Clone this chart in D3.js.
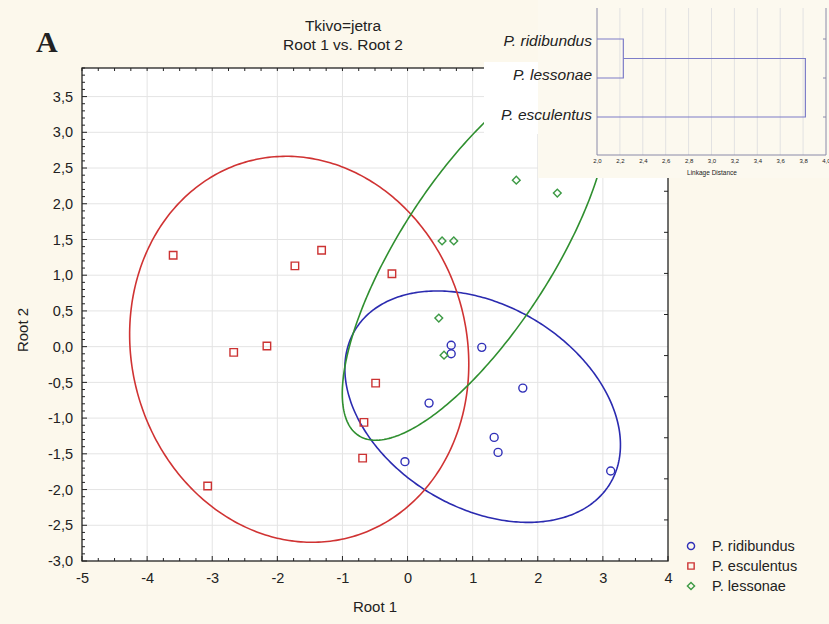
<!DOCTYPE html>
<html>
<head>
<meta charset="utf-8">
<script src="https://cdn.jsdelivr.net/npm/d3@7"></script>
<style>
  html, body { margin: 0; padding: 0; background: #fcf8ec; }
  svg { display: block; }
  text { font-family: "Liberation Sans", Arial, sans-serif; fill: #222; }
</style>
</head>
<body>
<svg id="chart" width="829" height="624"></svg>
<script>
// Canonical scores per group (Root 1, Root 2)
const groups = ["P. ridibundus", "P. esculentus", "P. lessonae"];
const ridibundusRoot1 = [0.67, 0.67, 1.14, 1.77, 0.33, 1.33, 1.39, -0.04, 3.12];
const ridibundusRoot2 = [0.02, -0.10, -0.01, -0.58, -0.79, -1.27, -1.48, -1.61, -1.74];
const esculentusRoot1 = [-3.60, -1.73, -1.32, -0.24, -2.67, -2.16, -0.49, -0.67, -0.69, -3.07];
const esculentusRoot2 = [1.28, 1.13, 1.35, 1.02, -0.08, 0.01, -0.51, -1.06, -1.56, -1.95];
const lessonaeRoot1 = [0.53, 0.71, 0.48, 0.56, 1.67, 2.30];
const lessonaeRoot2 = [1.48, 1.48, 0.40, -0.12, 2.33, 2.15];

const xTicks = [-5, -4, -3, -2, -1, 0, 1, 2, 3, 4];
const yTicks = [-3.0, -2.5, -2.0, -1.5, -1.0, -0.5, 0.0, 0.5, 1.0, 1.5, 2.0, 2.5, 3.0, 3.5];
const ellipseCoverage = 0.80;

// Dendrogram (linkage distance)
const treeLeaves = ["P. ridibundus", "P. lessonae", "P. esculentus"];
const treeJoins = [2.23, 3.82];
const treeTicks = [2.0, 2.2, 2.4, 2.6, 2.8, 3.0, 3.2, 3.4, 3.6, 3.8, 4.0];

const colors = ["#2b2bb0", "#d03333", "#2f8f2f"];
const pointColors = ["#3030b8", "#cc3333", "#3d9a45"];

const series = [
  { name: groups[0], x: ridibundusRoot1, y: ridibundusRoot2 },
  { name: groups[1], x: esculentusRoot1, y: esculentusRoot2 },
  { name: groups[2], x: lessonaeRoot1, y: lessonaeRoot2 }
];

// marker outlines: circle, square, square turned 45 degrees
function marker(i, s) {
  if (i === 0) return d3.symbol().type(d3.symbolCircle).size(s)();
  return d3.symbol().type(d3.symbolSquare).size(s)();
}
const markerRotate = [0, 0, 45];
const markerSize = [50, 56, 30];

const locale = d3.formatLocale({ decimal: ",", thousands: ".", grouping: [3], currency: ["", ""], minus: "-" });
const fmtInt = locale.format("d");
const comma = locale.format(".1f");

const svg = d3.select("#chart");
const plot = { left: 82, right: 668, top: 68, bottom: 561 };
const x = d3.scaleLinear().domain([-5, 4]).range([plot.left, plot.right]);
const y = d3.scaleLinear().domain([-3, 3.9]).range([plot.bottom, plot.top]);

// plot background and grid
svg.append("rect").attr("x", plot.left).attr("y", plot.top)
  .attr("width", plot.right - plot.left).attr("height", plot.bottom - plot.top)
  .attr("fill", "#ffffff");
const grid = svg.append("g").attr("stroke", "#e4e4e4").attr("stroke-width", 1);
grid.selectAll(".gx").data(xTicks.slice(1, -1)).join("line")
  .attr("x1", d => x(d)).attr("x2", d => x(d)).attr("y1", plot.top).attr("y2", plot.bottom);
grid.selectAll(".gy").data(yTicks.slice(1)).join("line")
  .attr("y1", d => y(d)).attr("y2", d => y(d)).attr("x1", plot.left).attr("x2", plot.right);

svg.append("clipPath").attr("id", "plotClip").append("rect")
  .attr("x", plot.left).attr("y", plot.top)
  .attr("width", plot.right - plot.left).attr("height", plot.bottom - plot.top);

// prediction ellipse from group covariance
function fQuantile2(p, d) { return d / 2 * (Math.pow(1 - p, -2 / d) - 1); }
function ellipsePath(s) {
  const n = s.x.length;
  const mx = d3.mean(s.x), my = d3.mean(s.y);
  let a = 0, b = 0, c = 0;
  for (let i = 0; i < n; i++) {
    const ddx = s.x[i] - mx, ddy = s.y[i] - my;
    a += ddx * ddx; b += ddx * ddy; c += ddy * ddy;
  }
  a /= n - 1; b /= n - 1; c /= n - 1;
  const half = (a + c) / 2, r = Math.sqrt(((a - c) / 2) ** 2 + b * b);
  const l1 = half + r, l2 = Math.max(half - r, 0);
  const th = 0.5 * Math.atan2(2 * b, a - c);
  const k = Math.sqrt(2 * (n - 1) * (n + 1) / (n * (n - 2)) * fQuantile2(ellipseCoverage, n - 2));
  const pts = d3.range(0, 361).map(t => {
    const u = t * Math.PI / 180;
    const ex = k * Math.sqrt(l1) * Math.cos(u), ey = k * Math.sqrt(l2) * Math.sin(u);
    return [x(mx + ex * Math.cos(th) - ey * Math.sin(th)), y(my + ex * Math.sin(th) + ey * Math.cos(th))];
  });
  return d3.line()(pts) + "Z";
}

const ell = svg.append("g").attr("clip-path", "url(#plotClip)");
series.forEach((s, i) => {
  ell.append("path").attr("d", ellipsePath(s)).attr("fill", "none")
    .attr("stroke", colors[i]).attr("stroke-width", 1.6);
});

// points
series.forEach((s, i) => {
  svg.append("g").selectAll("path").data(s.x.map((v, j) => [v, s.y[j]])).join("path")
    .attr("transform", d => `translate(${x(d[0])},${y(d[1])}) rotate(${markerRotate[i]})`)
    .attr("d", marker(i, markerSize[i]))
    .attr("fill", "none").attr("stroke", pointColors[i]).attr("stroke-width", 1.4);
});

// frame and axes
const axisG = svg.append("g");
axisG.append("g").attr("transform", `translate(0,${plot.bottom})`)
  .call(d3.axisBottom(x).tickValues(xTicks).tickSize(0).tickPadding(12).tickFormat(fmtInt))
  .call(g => g.select(".domain").remove())
  .selectAll("text").style("font-size", "14.5px").attr("fill", "#222");
axisG.append("g").attr("transform", `translate(${plot.left},0)`)
  .call(d3.axisLeft(y).tickValues(yTicks).tickSize(0).tickPadding(9).tickFormat(comma))
  .call(g => g.select(".domain").remove())
  .selectAll("text").style("font-size", "14.5px").attr("fill", "#222");

const tk = svg.append("g").attr("stroke", "#222").attr("stroke-width", 1);
const xMinor = d3.range(-5, 4.001, 0.25);
const yMinor = d3.range(-3, 3.901, 0.1);
tk.selectAll(".tb").data(xMinor).join("line")
  .attr("x1", d => x(d)).attr("x2", d => x(d))
  .attr("y1", plot.bottom).attr("y2", d => plot.bottom - (Math.abs(d - Math.round(d)) < 1e-6 ? 5 : 3));
tk.selectAll(".tt").data(xMinor).join("line")
  .attr("x1", d => x(d)).attr("x2", d => x(d))
  .attr("y1", plot.top).attr("y2", plot.top + 3);
tk.selectAll(".tl").data(yMinor).join("line")
  .attr("y1", d => y(d)).attr("y2", d => y(d))
  .attr("x1", plot.left).attr("x2", d => plot.left + (Math.abs(d * 2 - Math.round(d * 2)) < 1e-6 ? 5 : 3));
tk.selectAll(".tr").data(d3.range(1, 12)).join("line")
  .attr("y1", d => plot.bottom - d * (plot.bottom - plot.top) / 12)
  .attr("y2", d => plot.bottom - d * (plot.bottom - plot.top) / 12)
  .attr("x1", plot.right).attr("x2", plot.right - 4);
svg.append("rect").attr("x", plot.left).attr("y", plot.top)
  .attr("width", plot.right - plot.left).attr("height", plot.bottom - plot.top)
  .attr("fill", "none").attr("stroke", "#222").attr("stroke-width", 1.3);

// titles
svg.append("text").attr("x", 343).attr("y", 31).attr("text-anchor", "middle")
  .style("font-size", "15.5px").text("Tkivo=jetra");
svg.append("text").attr("x", 343).attr("y", 50).attr("text-anchor", "middle")
  .style("font-size", "15.5px").text("Root 1 vs. Root 2");
svg.append("text").attr("x", 36).attr("y", 52)
  .style("font-family", "'Liberation Serif', 'Times New Roman', serif")
  .style("font-size", "30px").style("font-weight", "bold").attr("fill", "#2a1a1a").text("A");
svg.append("text").attr("x", 375).attr("y", 612).attr("text-anchor", "middle")
  .style("font-size", "15px").text("Root 1");
svg.append("text").attr("transform", "translate(28,330) rotate(-90)").attr("text-anchor", "middle")
  .style("font-size", "15px").text("Root 2");

// legend
const leg = svg.append("g");
groups.forEach((g, i) => {
  const ly = 546 + i * 20;
  leg.append("path").attr("transform", `translate(691,${ly}) rotate(${markerRotate[i]})`)
    .attr("d", marker(i, i === 2 ? 26 : 40))
    .attr("fill", "none").attr("stroke", pointColors[i]).attr("stroke-width", 1.4);
  leg.append("text").attr("x", 712).attr("y", ly + 5).style("font-size", "14.5px").text(g);
});

// dendrogram inset
const ins = svg.append("g");
ins.append("rect").attr("x", 484).attr("y", 62).attr("width", 66).attr("height", 72).attr("fill", "#ffffff");
ins.append("rect").attr("x", 538).attr("y", 0).attr("width", 291).attr("height", 178).attr("fill", "#fcf9ef");
const dx = d3.scaleLinear().domain([2, 4]).range([597, 826]);
const dy = d3.scalePoint().domain(treeLeaves).range([39, 117]);
ins.append("g").attr("stroke", "#e2e2e2").selectAll("line").data(treeTicks.slice(1, -1)).join("line")
  .attr("x1", d => dx(d)).attr("x2", d => dx(d)).attr("y1", 8).attr("y2", 155);
ins.append("g").attr("transform", "translate(0,155)")
  .call(d3.axisBottom(dx).tickValues(treeTicks).tickSize(0).tickPadding(4).tickFormat(comma))
  .call(g => g.select(".domain").remove())
  .selectAll("text").style("font-size", "6px").attr("fill", "#555")
  .attr("text-anchor", (d, i, n) => i === n.length - 1 ? "end" : "middle")
  .attr("dx", (d, i, n) => i === n.length - 1 ? "4" : "0");
ins.append("text").attr("x", 712).attr("y", 175).attr("text-anchor", "middle")
  .style("font-size", "6.5px").attr("fill", "#555").text("Linkage Distance");
ins.append("path").attr("d", `M${dx(2)},8V155H${dx(4)}V8`).attr("fill", "none")
  .attr("stroke", "#8a8aa8").attr("stroke-width", 1);
const labelY = [41, 75, 115];
treeLeaves.forEach((l, i) => {
  ins.append("line").attr("x1", dx(4)).attr("x2", dx(4) - 3).attr("y1", dy(l)).attr("y2", dy(l)).attr("stroke", "#8a8aa8");
  ins.append("text").attr("x", 592).attr("y", labelY[i] + 5).attr("text-anchor", "end")
    .style("font-size", "15.5px").style("font-style", "italic").text(l);
});
const mid1 = (dy(treeLeaves[0]) + dy(treeLeaves[1])) / 2;
const tree = ins.append("g").attr("fill", "none").attr("stroke", "#7d7dc8").attr("stroke-width", 1.2);
tree.append("path").attr("d",
  `M${dx(2)},${dy(treeLeaves[0])}H${dx(treeJoins[0])}V${dy(treeLeaves[1])}H${dx(2)}`);
tree.append("path").attr("d",
  `M${dx(treeJoins[0])},${mid1}H${dx(treeJoins[1])}V${dy(treeLeaves[2])}H${dx(2)}`);
</script>
</body>
</html>
